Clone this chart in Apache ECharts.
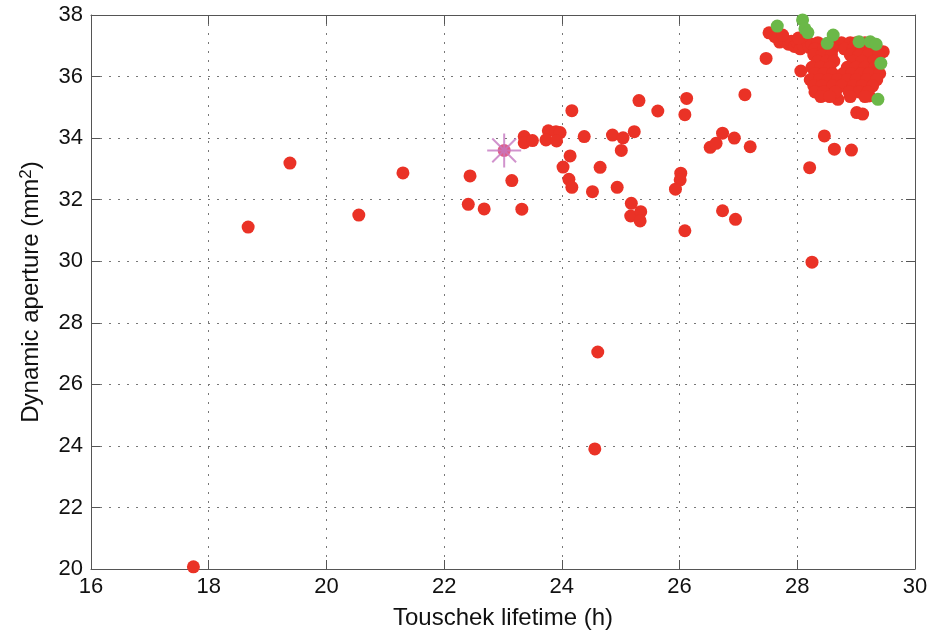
<!DOCTYPE html>
<html>
<head>
<meta charset="utf-8">
<script src="https://cdn.jsdelivr.net/npm/echarts@6/dist/echarts.min.js"></script>
<style>html,body{margin:0;padding:0;background:#fff;}#main{width:943px;height:635px;}</style>
</head>
<body>
<div id="main"></div>
<script>
// Axis settings
const xMin = 16, xMax = 30, xStep = 2;
const yMin = 20, yMax = 38, yStep = 2;
const xTitle = 'Touschek lifetime (h)';

// Red solutions [lifetime h, dynamic aperture mm^2]
const redScattered = [
  [17.74,20.07],[18.67,31.11],[19.38,33.19],[20.55,31.50],[21.30,32.87],
  [22.44,32.77],[22.41,31.85],[22.68,31.70],[23.15,32.62],[23.32,31.69],
  [23.36,34.05],[23.36,33.85],[23.50,33.92],[23.77,34.24],[23.73,33.94],[23.90,34.21],[23.97,34.18],[23.91,33.91],
  [24.17,34.89],[24.38,34.05],[24.14,33.42],[24.02,33.06],[24.12,32.66],[24.17,32.40],[24.52,32.26],[24.65,33.05],
  [24.86,34.10],[25.04,34.01],[25.23,34.21],[25.01,33.60],[24.94,32.40],[25.31,35.22],[25.63,34.88],
  [25.18,31.88],[25.17,31.47],[25.34,31.61],[25.33,31.31],
  [26.12,35.29],[26.09,34.76],[26.02,32.86],[26.01,32.64],[25.93,32.34],[26.09,30.99],
  [26.52,33.70],[26.62,33.83],[26.73,34.16],[26.93,34.00],[27.20,33.72],[26.73,31.64],[26.95,31.36],[27.11,35.41],
  [24.61,27.05],[24.56,23.90],[28.25,29.97],
  [28.46,34.07],[28.63,33.64],[28.92,33.61],[28.21,33.04],[29.01,34.83],[29.11,34.78],
  [27.47,36.59],[28.06,36.18],[28.69,35.26],[29.22,35.37],[29.46,36.81]
];
const redCluster = [
  [27.52,37.42],[27.62,37.30],[27.70,37.12],[27.78,37.20],[27.85,37.05],[27.90,37.15],[27.95,36.98],
  [28.00,37.10],[28.05,36.90],[28.10,37.00],[28.15,37.20],[28.20,36.95],[28.25,37.05],[27.75,37.35],[28.02,37.25],
  [28.35,37.10],[28.55,37.10],[28.75,37.10],[28.90,37.10],[29.00,37.10],[29.15,37.10],
  [28.30,36.90],[28.45,36.90],[28.60,36.90],[28.80,36.90],[28.95,36.90],[29.10,36.90],[29.25,36.90],[29.35,36.90],
  [28.28,36.70],[28.42,36.70],[28.58,36.70],[28.90,36.70],[29.05,36.70],[29.20,36.70],[29.38,36.70],
  [28.35,36.50],[28.50,36.50],[28.62,36.50],[28.95,36.50],[29.10,36.50],[29.30,36.50],
  [28.25,36.30],[28.40,36.30],[28.55,36.30],[28.85,36.30],[29.00,36.30],[29.15,36.30],[29.32,36.30],
  [28.30,36.10],[28.45,36.10],[28.60,36.10],[28.78,36.10],[28.92,36.10],[29.08,36.10],[29.22,36.10],[29.40,36.10],
  [28.22,35.90],[28.38,35.90],[28.52,35.90],[28.68,35.90],[28.85,35.90],[29.00,35.90],[29.18,35.90],[29.35,35.90],
  [28.28,35.70],[28.42,35.70],[28.60,35.70],[28.75,35.70],[28.95,35.70],[29.10,35.70],[29.28,35.70],
  [28.30,35.50],[28.45,35.50],[28.65,35.50],[28.88,35.50],[29.05,35.50],[29.20,35.50],
  [28.40,35.35],[28.55,35.35],[28.90,35.35],[29.15,35.35]
];
// Green solutions
const greenPoints = [
  [27.66,37.64],[28.09,37.84],[28.13,37.55],[28.18,37.43],[28.61,37.35],[28.51,37.08],
  [29.05,37.13],[29.24,37.13],[29.34,37.05],[29.42,36.43],[29.37,35.26]
];
// Reference (starred) solution
const starPoint = [[23.02,33.60]];

const chart = echarts.init(document.getElementById('main'), null, {renderer: 'canvas'});
const FONT = 'Liberation Sans, Arial, Helvetica, sans-serif';
const axisCommon = {
  axisLine: {show: true, onZero: false, lineStyle: {color: '#555', width: 1}},
  axisTick: {show: true, inside: true, length: 9, lineStyle: {color: '#555'}}
};
chart.setOption({
  backgroundColor: '#ffffff',
  animation: false,
  grid: {left: 91, right: 28, top: 15, bottom: 66},
  xAxis: [
    Object.assign({
      type: 'value', min: xMin, max: xMax, interval: xStep, position: 'bottom',
      name: xTitle, nameLocation: 'middle', nameGap: 37,
      nameTextStyle: {fontFamily: FONT, fontSize: 24, color: '#111'},
      axisLabel: {fontFamily: FONT, fontSize: 22, color: '#111', margin: 7},
      splitLine: {show: true, lineStyle: {color: '#777', type: [2, 7], width: 1}}
    }, axisCommon),
    Object.assign({
      type: 'value', min: xMin, max: xMax, interval: xStep, position: 'top',
      axisLabel: {show: false}, splitLine: {show: false}
    }, axisCommon)
  ],
  yAxis: [
    Object.assign({
      type: 'value', min: yMin, max: yMax, interval: yStep, position: 'left',
      name: 'Dynamic aperture (mm{sup|2})', nameLocation: 'middle', nameGap: 46, nameRotate: 90,
      nameTextStyle: {fontFamily: FONT, fontSize: 24, color: '#111',
        rich: {sup: {fontFamily: FONT, fontSize: 17, color: '#111', verticalAlign: 'top', padding: [0,0,10,0]}}},
      axisLabel: {fontFamily: FONT, fontSize: 22, color: '#111', margin: 8},
      splitLine: {show: true, lineStyle: {color: '#777', type: [2, 7], width: 1}}
    }, axisCommon),
    Object.assign({
      type: 'value', min: yMin, max: yMax, interval: yStep, position: 'right',
      axisLabel: {show: false}, splitLine: {show: false}
    }, axisCommon)
  ],
  series: [
    {type: 'scatter', data: redScattered.concat(redCluster), symbol: 'circle', symbolSize: 13,
     itemStyle: {color: '#ea3226', opacity: 1}, z: 2},
    {type: 'scatter', data: greenPoints, symbol: 'circle', symbolSize: 13,
     itemStyle: {color: '#6bb848', opacity: 1}, z: 3},
    {type: 'scatter', data: starPoint, symbol: 'circle', symbolSize: 13,
     itemStyle: {color: '#d7376c'}, z: 4},
    {type: 'scatter', data: starPoint, symbolSize: 34,
     symbol: 'path://M0,-10L0,10M-10,0L10,0M-7,-7L7,7M-7,7L7,-7',
     itemStyle: {color: 'transparent', borderColor: '#c678c0', borderWidth: 2}, z: 5}
  ]
});
</script>
</body>
</html>
